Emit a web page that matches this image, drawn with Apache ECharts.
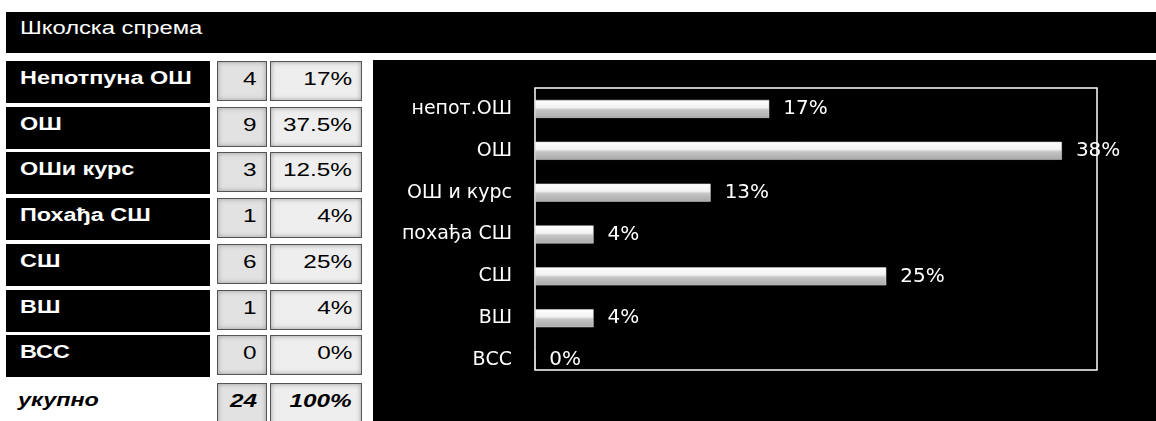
<!DOCTYPE html>
<html>
<head>
<meta charset="utf-8">
<script src="https://cdn.jsdelivr.net/npm/echarts@6/dist/echarts.min.js"></script>
<style>
  html, body { margin: 0; padding: 0; background: #fff; }
  #page { position: relative; width: 1156px; height: 421px; overflow: hidden; font-family: "Liberation Sans", Arial, sans-serif; }
  #title { position: absolute; left: 6px; top: 12px; width: 1150px; height: 41px; background: #000; }
  #title span { position: absolute; left: 14px; top: 7px; color: #fff; font-size: 18px; line-height: 18px; transform: scaleX(1.32); transform-origin: left center; white-space: nowrap; }
  .lab { position: absolute; left: 6px; width: 204px; height: 42px; background: #000; }
  .lab span, .tot span { position: absolute; left: 14px; top: 8px; color: #fff; font-weight: bold; font-size: 18px; line-height: 18px; transform: scaleX(1.3); transform-origin: left center; white-space: nowrap; }
  .tot span { color: #000; font-style: italic; }
  .cell { position: absolute; height: 38px; background: #eeeeee; border: 1px solid #555; box-shadow: inset 0 0 5px #9a9a9a; box-sizing: content-box; }
  .cell span { position: absolute; right: 9px; top: 8px; color: #000; font-size: 19px; line-height: 18px; transform: scaleX(1.28); transform-origin: right center; white-space: nowrap; }
  .cell.b span { font-weight: bold; font-style: italic; }
  .cnt { left: 217px; width: 48px; background: #e2e2e2; }
  .pct { left: 270px; width: 90px; }
  #chart { position: absolute; left: 373px; top: 60px; width: 783px; height: 361px; }
</style>
</head>
<body>
<div id="page">
  <div id="title"><span>Школска спрема</span></div>
  <div id="table"></div>
  <div id="chart"></div>
</div>
<script>
// table data
const rowLabels = ['Непотпуна ОШ', 'ОШ', 'ОШи курс', 'Похађа СШ', 'СШ', 'ВШ', 'ВСС'];
const counts = [4, 9, 3, 1, 6, 1, 0];
const pctTexts = ['17%', '37.5%', '12.5%', '4%', '25%', '4%', '0%'];
const totalLabel = 'укупно';
const totalCount = 24;
const totalPct = '100%';

// chart data
const categories = ['непот.ОШ', 'ОШ', 'ОШ и курс', 'похађа СШ', 'СШ', 'ВШ', 'ВСС'];
const pctValues = [16.67, 37.5, 12.5, 4.17, 25, 4.17, 0];
const pctLabels = ['17%', '38%', '13%', '4%', '25%', '4%', '0%'];

// build the table on the left
const table = document.getElementById('table');
const rowTop = i => 61 + Math.round(i * 45.7);
function addCell(cls, top, text, h) {
  const d = document.createElement('div');
  d.className = cls;
  d.style.top = top + 'px';
  if (h) d.style.height = h + 'px';
  const s = document.createElement('span');
  s.textContent = text;
  d.appendChild(s);
  table.appendChild(d);
  return d;
}
rowLabels.forEach((name, i) => {
  const t = rowTop(i);
  addCell('lab', t, name);
  addCell('cell cnt', t, String(counts[i]));
  addCell('cell pct', t, pctTexts[i]);
});
const tot = addCell('tot', 383, totalLabel);
tot.style.position = 'absolute';
tot.style.left = '4px';
addCell('cell cnt b', 383, String(totalCount), 44);
addCell('cell pct b', 383, totalPct, 44);

// chart on the right
const myChart = echarts.init(document.getElementById('chart'));
const option = {
  backgroundColor: '#000',
  animation: false,
  grid: [
    // data grid
    { left: 162, top: 28, width: 562, height: 293 },
    // frame around the plot
    { show: true, left: 162, top: 28, width: 562, height: 282, borderColor: '#fff', borderWidth: 1.5, backgroundColor: 'transparent' }
  ],
  xAxis: [
    {
      type: 'value',
      gridIndex: 0,
      min: 0,
      max: 40,
      axisLabel: { show: false },
      axisTick: { show: false },
      axisLine: { show: false },
      splitLine: { show: false }
    },
    { type: 'value', gridIndex: 1, show: false, splitLine: { show: false } }
  ],
  yAxis: [
    {
      type: 'category',
      gridIndex: 0,
      data: categories,
      inverse: true,
      axisTick: { show: false },
      axisLine: { show: false },
      axisLabel: {
        color: '#fff',
        fontFamily: 'DejaVu Sans',
        fontSize: 19,
        margin: 23
      }
    },
    { type: 'value', gridIndex: 1, show: false, splitLine: { show: false } }
  ],
  series: [
    {
      type: 'bar',
      data: pctValues,
      barWidth: 18,
      itemStyle: {
        color: new echarts.graphic.LinearGradient(0, 0, 0, 1, [
          { offset: 0, color: '#ffffff' },
          { offset: 0.42, color: '#f2f2f2' },
          { offset: 0.55, color: '#c6c6c6' },
          { offset: 1, color: '#a9a9a9' }
        ]),
        borderColor: '#e0e0e0',
        borderWidth: 0.5
      },
      label: {
        show: true,
        position: 'right',
        distance: 14,
        color: '#fff',
        fontFamily: 'DejaVu Sans',
        fontSize: 20,
        formatter: p => pctLabels[p.dataIndex]
      }
    }
  ]
};
myChart.setOption(option);
</script>
</body>
</html>
